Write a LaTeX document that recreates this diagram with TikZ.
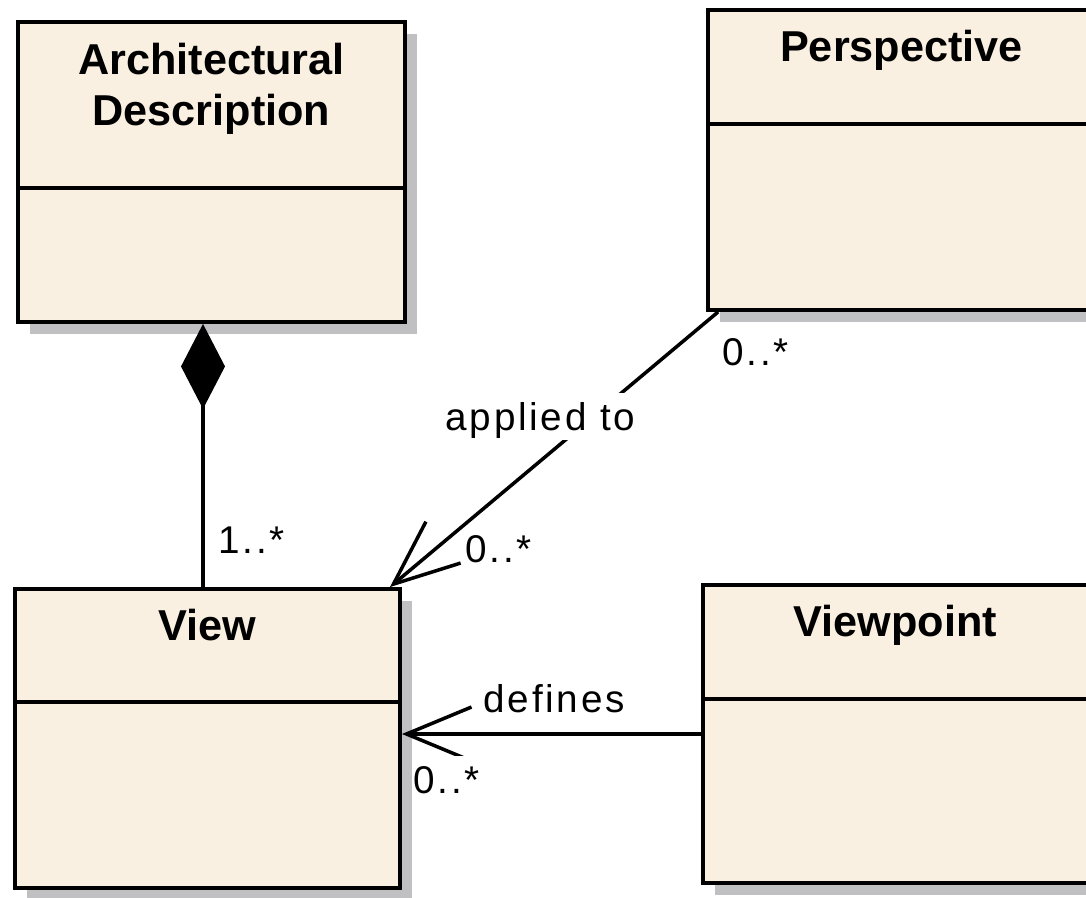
\documentclass[tikz,border=0pt]{standalone}
\usepackage{fontspec}
\setmainfont{Liberation Sans}
\newfontfamily\lblfont{Liberation Sans}[LetterSpace=7]
\usepackage{xcolor}
\usetikzlibrary{arrows.meta,shadows}

\definecolor{classfill}{RGB}{250,240,226}
\definecolor{shadowgray}{RGB}{192,191,194}

\tikzset{
  classbox/.style={draw, line width=1.1pt, fill=classfill, minimum width=3.87cm, minimum height=3cm,
    drop shadow={shadow xshift=0.12cm, shadow yshift=-0.12cm, fill=shadowgray, opacity=1}},
  divider/.style={line width=1.1pt},
  classname/.style={anchor=base, align=center, inner sep=0pt, font=\bfseries\fontsize{12.3}{14.5}\selectfont},
  mult/.style={anchor=base west, inner sep=0pt, font=\lblfont\fontsize{11}{13}\selectfont},
  whitebg/.style={fill=white, text height=10.5pt, text depth=2.8pt},
  comp/.style={line width=1pt, -{Diamond[length=0.85cm,width=0.44cm]}},
  assoc/.style={line width=1pt, -{Straight Barb[length=0.65cm,width=0.54cm,line width=1pt]}}
}

\begin{document}
\begin{tikzpicture}

\useasboundingbox (0,0) rectangle (10.86,8.97);
\clip (0,0) rectangle (10.86,8.97);

% top row:
\node[classbox] (ad) at (2.115,7.25) {};
\node[classname] (ad-name) at ([yshift=-1.05cm]ad.north) {Architectural\\Description};
\draw[divider] ([yshift=-1.68cm]ad.north west) -- ([yshift=-1.68cm]ad.north east);

\node[classbox] (persp) at (9.015,7.37) {};
\node[classname] (persp-name) at ([yshift=-0.53cm]persp.north) {Perspective};
\draw[divider] ([yshift=-1.16cm]persp.north west) -- ([yshift=-1.16cm]persp.north east);


% bottom row:
\node[classbox, minimum width=3.85cm, minimum height=2.99cm] (view) at (2.075,1.585) {};
\node[classname] (view-name) at ([yshift=-0.53cm]view.north) {View};
\draw[divider] ([yshift=-1.15cm]view.north west) -- ([yshift=-1.15cm]view.north east);

\node[classbox, minimum width=3.85cm, minimum height=2.98cm] (vpoint) at (8.955,1.63) {};
\node[classname] (vpoint-name) at ([yshift=-0.53cm]vpoint.north) {Viewpoint};
\draw[divider] ([yshift=-1.16cm]vpoint.north west) -- ([yshift=-1.16cm]vpoint.north east);


% links:
\draw[comp] ([xshift=-0.045cm]view.north) -- ([xshift=-0.085cm]ad.south);
\draw[assoc] ([xshift=0.12cm]persp.south west) -- ([xshift=-0.12cm]view.north east);
\draw[assoc] (vpoint.west) -- (vpoint.west -| view.east);

\node[mult] (m-ad) at (2.18,3.44) {1..*};
\node[mult, whitebg] (m-applied) at (4.45,4.67) {applied to};
\node[mult] (m-persp) at (7.22,5.32) {0..*};
\node[mult] (m-view) at (4.65,3.35) {0..*};
\node[mult] (m-defines) at (4.83,1.85) {defines};
\node[mult, whitebg] (m-vpoint) at (4.13,1.04) {0..*};

\end{tikzpicture}
\end{document}
